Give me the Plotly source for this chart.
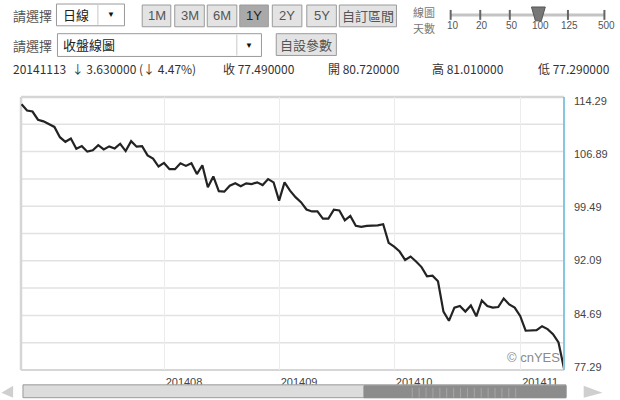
import pandas as pd
import plotly.graph_objects as go

# 100 trading days ending 2014-11-13
trade_days = pd.bdate_range("2014-06-25", "2014-11-13", freq="C",
                            holidays=["2014-07-04", "2014-09-01"])
dates = [d.strftime("%Y-%m-%d") for d in trade_days]

closes = [
    114.25, 113.37, 113.23, 112.09, 111.86, 111.50, 111.09, 109.66, 109.02, 109.48,
    108.06, 108.42, 107.65, 107.83, 108.56, 107.96, 108.38, 108.10, 108.75, 107.73,
    109.11, 108.34, 108.42, 107.14, 106.68, 105.58, 106.08, 105.21, 105.21, 106.04,
    105.67, 106.04, 104.53, 105.76, 102.70, 104.21, 102.15, 102.09, 102.92, 103.25,
    102.83, 103.25, 103.15, 103.38, 103.01, 103.84, 103.38, 100.85, 103.38, 102.23,
    101.32, 100.63, 99.61, 99.34, 99.34, 98.34, 98.34, 99.57, 99.48, 98.10,
    98.71, 97.33, 97.19, 97.33, 97.33, 97.41, 97.55, 94.97, 94.44, 93.76,
    92.60, 93.07, 92.38, 91.60, 90.32, 90.40, 89.63, 85.41, 84.13, 85.96,
    86.19, 85.41, 86.27, 84.76, 86.96, 86.19, 85.96, 86.05, 87.23, 86.41,
    85.96, 84.81, 82.75, 82.83, 82.83, 83.38, 82.97, 82.28, 81.12, 77.49,
]

month_starts = ["2014-08-01", "2014-09-02", "2014-10-01", "2014-11-03"]
month_labels = ["201408", "201409", "201410", "201411"]
price_ticks = [77.29, 84.69, 92.09, 99.49, 106.89, 114.29]

last_open = 80.72
last_high = 81.01
last_low = 77.29

periods = ["1M", "3M", "6M", "1Y", "2Y", "5Y", "自訂區間"]
active_period = "1Y"
day_options = ["10", "20", "50", "100", "125", "500"]
active_days = "100"

CJK = "Noto Sans CJK TC"
SANS = "Liberation Sans"

# plot box in page pixels
L, R, T, B = 21, 572, 97, 373


def px(x):
    return (x - L) / (R - L)


def py(y):
    return (B - y) / (B - T)


shapes = []
annotations = []


def rect(x0, y0, x1, y1, fill, line="#a0a0a0", width=1):
    shapes.append(dict(type="rect", xref="paper", yref="paper",
                       x0=px(x0), x1=px(x1), y0=py(y1), y1=py(y0),
                       fillcolor=fill, line=dict(color=line, width=width)))


def hline(x0, x1, y, color, width=1, layer="above"):
    shapes.append(dict(type="line", xref="paper", yref="paper", layer=layer,
                       x0=px(x0), x1=px(x1), y0=py(y), y1=py(y),
                       line=dict(color=color, width=width)))


def vline(x, y0, y1, color, width=1, layer="above"):
    shapes.append(dict(type="line", xref="paper", yref="paper", layer=layer,
                       x0=px(x), x1=px(x), y0=py(y0), y1=py(y1),
                       line=dict(color=color, width=width)))


def label(x, y, s, size=12, color="#333", anchor="left", family=CJK):
    annotations.append(dict(xref="paper", yref="paper", x=px(x), y=py(y),
                            text=s, showarrow=False, xanchor=anchor,
                            yanchor="middle", borderpad=0,
                            font=dict(size=size, color=color, family=family)))


# --- control rows ---
label(12, 15, "請選擇", 13, "#555")
rect(57, 3, 126, 25, "white", "#9a9a9a")
vline(99, 4, 24, "#c8c8c8")
label(63, 14, "日線", 13, "#222")
label(112, 14, "▼", 8, "#111", "center", SANS)

btn_x = [144, 177, 210, 243, 276, 311, 344]
btn_w = [29, 30, 30, 29, 30, 30, 58]
for name, x0, w in zip(periods, btn_x, btn_w):
    on = name == active_period
    rect(x0, 4, x0 + w, 26, "#a9a9a9" if on else "#e3e3e3", "#9a9a9a")
    label(x0 + w / 2, 15, name, 13, "#222" if on else "#555", "center",
          CJK if len(name) > 2 else SANS)

label(418, 11.5, "線圖", 11, "#777")
label(418, 27.5, "天數", 11, "#777")
hline(457, 613, 14, "#c4c4c4", 3)
tick_x = [457, 487, 517, 546, 576, 613]
for name, x in zip(day_options, tick_x):
    vline(x, 9, 19, "#666", 2)
    label(x + 2, 25, name, 10, "#555", "center", SANS)
    if name == active_days:
        shapes.append(dict(type="path", xref="paper", yref="paper",
                           path=f"M {px(x - 7)} {py(6)} L {px(x + 7)} {py(6)} "
                                f"L {px(x + 3)} {py(20)} L {px(x - 3)} {py(20)} Z",
                           fillcolor="#777", line=dict(color="#555", width=1)))

label(12, 45, "請選擇", 13, "#555")
rect(58, 33, 265, 56, "white", "#9a9a9a")
vline(240, 34, 55, "#c8c8c8")
label(63, 44, "收盤線圖", 13, "#222")
label(252, 45, "▼", 8, "#111", "center", SANS)
rect(280, 33, 341, 55, "#e3e3e3", "#9a9a9a")
label(310.5, 44, "自設參數", 13, "#555", "center")

chg = closes[-1] - closes[-2]
pct = chg / closes[-2] * 100
arrow = "↓" if chg < 0 else "↑"
day_str = dates[-1].replace("-", "")
label(12, 68, f"{day_str}  {arrow} {abs(chg):.6f} ({arrow} {abs(pct):.2f}%)", 12, "#333")
label(225, 68, f"收 {closes[-1]:.6f}", 12, "#333")
label(332, 68, f"開 {last_open:.6f}", 12, "#333")
label(437, 68, f"高 {last_high:.6f}", 12, "#333")
label(545, 68, f"低 {last_low:.6f}", 12, "#333")

# --- chart frame and grid ---
for i in range(1, 10):
    hline(L, R, T + i * (B - T) / 10, "#e2e2e2", 1.5, "below")
hline(L, R, T, "#d6d6d6", 2.5, "below")
hline(L, R, B, "#d6d6d6", 2, "below")
vline(L, T, B, "#d6d6d6", 2.5, "below")
vline(R, T, B, "#86c6de", 2)

annotations.append(dict(xref="paper", yref="paper", x=1, y=0, xshift=-2, yshift=3,
                        xanchor="right", yanchor="bottom", showarrow=False,
                        text="© cnYES", font=dict(size=13, color="#8a8a8a", family=SANS)))

# --- scrollbar ---
rect(23, 388, 574, 401, "#dcdcdc", "#9a9a9a")
rect(369, 389, 574, 401, "#8c8c8c", "#8c8c8c")
for gx in range(418, 528, 7):
    vline(gx, 391, 401, "#a6a6a6")
shapes.append(dict(type="path", xref="paper", yref="paper",
                   path=f"M {px(1)} {py(396)} L {px(13)} {py(389)} L {px(13)} {py(401)} Z",
                   fillcolor="#cfcfcf", line=dict(width=0)))
shapes.append(dict(type="path", xref="paper", yref="paper",
                   path=f"M {px(611)} {py(396)} L {px(592)} {py(389)} L {px(592)} {py(401)} Z",
                   fillcolor="#cfcfcf", line=dict(width=0)))

fig = go.Figure(go.Scatter(x=dates, y=closes, mode="lines",
                           line=dict(color="#232323", width=2.2)))

fig.update_layout(
    width=620, height=400,
    margin=dict(l=L, r=620 - R, t=T, b=400 - B),
    paper_bgcolor="white", plot_bgcolor="white",
    showlegend=False,
    shapes=shapes, annotations=annotations,
    xaxis=dict(type="category", range=[-0.1, len(dates) - 1],
               tickvals=month_starts, ticktext=month_labels,
               showgrid=True, gridcolor="#ececec", gridwidth=1,
               showline=False, zeroline=False, ticks="",
               ticklabelshift=20, ticklabelstandoff=4,
               tickfont=dict(size=11, color="#444", family=SANS)),
    yaxis=dict(side="right", range=[77.29, 115.25],
               tickvals=price_ticks, ticktext=[f"{v:.2f}" for v in price_ticks],
               showgrid=False, showline=False, zeroline=False, ticks="",
               ticklabelshift=-3, ticklabelstandoff=9,
               tickfont=dict(size=11, color="#444", family=SANS)),
)

# page body margin would push the figure 8px off the window corner
fig.write_html("out.html", config={"displayModeBar": False},
               post_script="document.body.style.margin = '0';")
